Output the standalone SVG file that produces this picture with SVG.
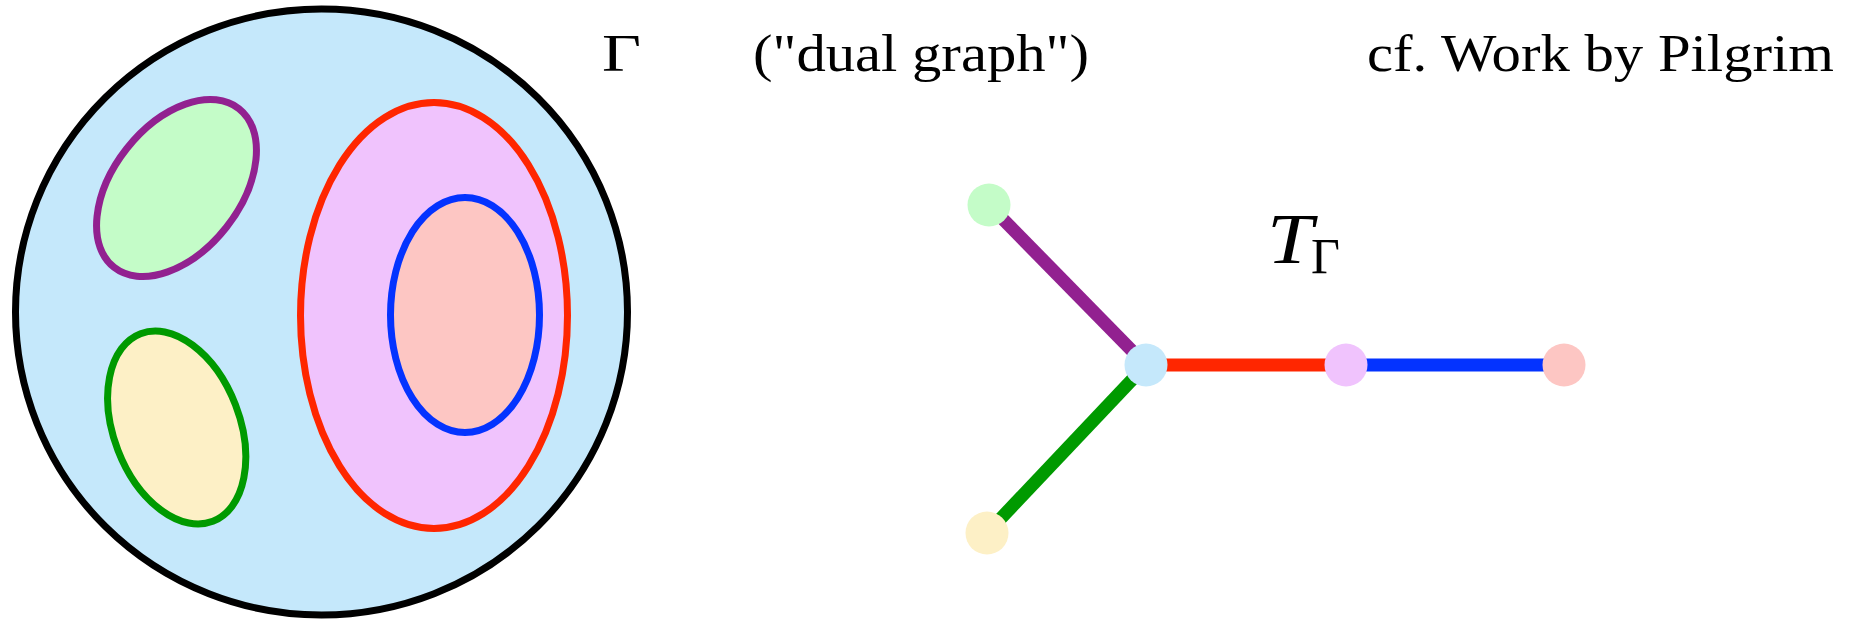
<svg xmlns="http://www.w3.org/2000/svg" width="1858" height="625" viewBox="0 0 1858 625">
<style>
text{font-family:"Liberation Serif","Times New Roman",serif;fill:#000}
.lbl{font-size:53px}
.edge{stroke-width:13;fill:none}
.node{stroke:none}
</style>
<rect width="1858" height="625" fill="#fff"/>
<g id="region-gamma">
<ellipse cx="321.5" cy="312" rx="306" ry="303" fill="#c5e8fb" stroke="#000" stroke-width="7"/>
<text x="602" y="70.5" font-size="53" textLength="39" lengthAdjust="spacingAndGlyphs">Γ</text>
</g>
<g id="region-green">
<ellipse cx="0" cy="0" rx="101" ry="63.5" transform="translate(176.5 188) rotate(-51.8)" fill="#c4fcc8" stroke="#922190" stroke-width="7"/>
</g>
<g id="region-yellow">
<ellipse cx="0" cy="0" rx="100.5" ry="63" transform="translate(176.7 427.5) rotate(68.9)" fill="#fdf0c6" stroke="#009a00" stroke-width="7"/>
</g>
<g id="region-pink">
<ellipse cx="434" cy="315.5" rx="133.5" ry="213" fill="#f0c3fd" stroke="#ff2600" stroke-width="7"/>
</g>
<g id="region-salmon">
<ellipse cx="465" cy="315" rx="74.5" ry="117.5" fill="#fdc6c3" stroke="#0433ff" stroke-width="7"/>
</g>
<g id="labels">
<text class="lbl" x="753" y="70.5" textLength="336" lengthAdjust="spacingAndGlyphs">("dual graph")</text>
<text class="lbl" x="1367" y="70.5" textLength="467" lengthAdjust="spacingAndGlyphs">cf. Work by Pilgrim</text>
<text x="1267" y="263" font-size="72" font-style="italic" textLength="46" lengthAdjust="spacingAndGlyphs">T</text>
<text x="1311" y="273" font-size="50">Γ</text>
</g>
<g id="connectors">
<line class="edge" x1="989" y1="205" x2="1146" y2="365" stroke="#922190"/>
<line class="edge" x1="987" y1="533" x2="1146" y2="365" stroke="#009a00"/>
<line class="edge" x1="1146" y1="365" x2="1346" y2="365" stroke="#ff2600"/>
<line class="edge" x1="1346" y1="365" x2="1564" y2="365" stroke="#0433ff"/>
</g>
<g id="node-green"><circle class="node" cx="989" cy="205" r="21.5" fill="#c4fcc8"/></g>
<g id="node-yellow"><circle class="node" cx="987" cy="533" r="21.5" fill="#fdf0c6"/></g>
<g id="node-center"><circle class="node" cx="1146" cy="365" r="21.5" fill="#c5e8fb"/></g>
<g id="node-pink"><circle class="node" cx="1346" cy="365" r="21.5" fill="#f0c3fd"/></g>
<g id="node-salmon"><circle class="node" cx="1564" cy="365" r="21.5" fill="#fdc6c3"/></g>
</svg>
